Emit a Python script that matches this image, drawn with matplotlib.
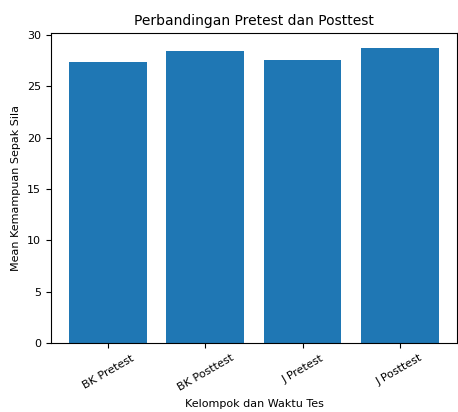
import matplotlib
matplotlib.use("Agg")
import matplotlib.pyplot as plt

categories = ["BK Pretest", "BK Posttest", "J Pretest", "J Posttest"]
means = [27.4, 28.45, 27.55, 28.75]

fig = plt.figure(figsize=(4.58, 4.12), dpi=100)
ax = fig.add_axes([0.111, 0.167, 0.887, 0.753])
ax.bar(categories, means, color="#1f77b4")
ax.set_title("Perbandingan Pretest dan Posttest", fontsize=10)
ax.set_xlabel("Kelompok dan Waktu Tes", fontsize=8)
ax.set_ylabel("Mean Kemampuan Sepak Sila", fontsize=8)
ax.tick_params(axis="both", labelsize=8)
plt.setp(ax.get_xticklabels(), rotation=30)
fig.savefig("out.png", dpi=100)
